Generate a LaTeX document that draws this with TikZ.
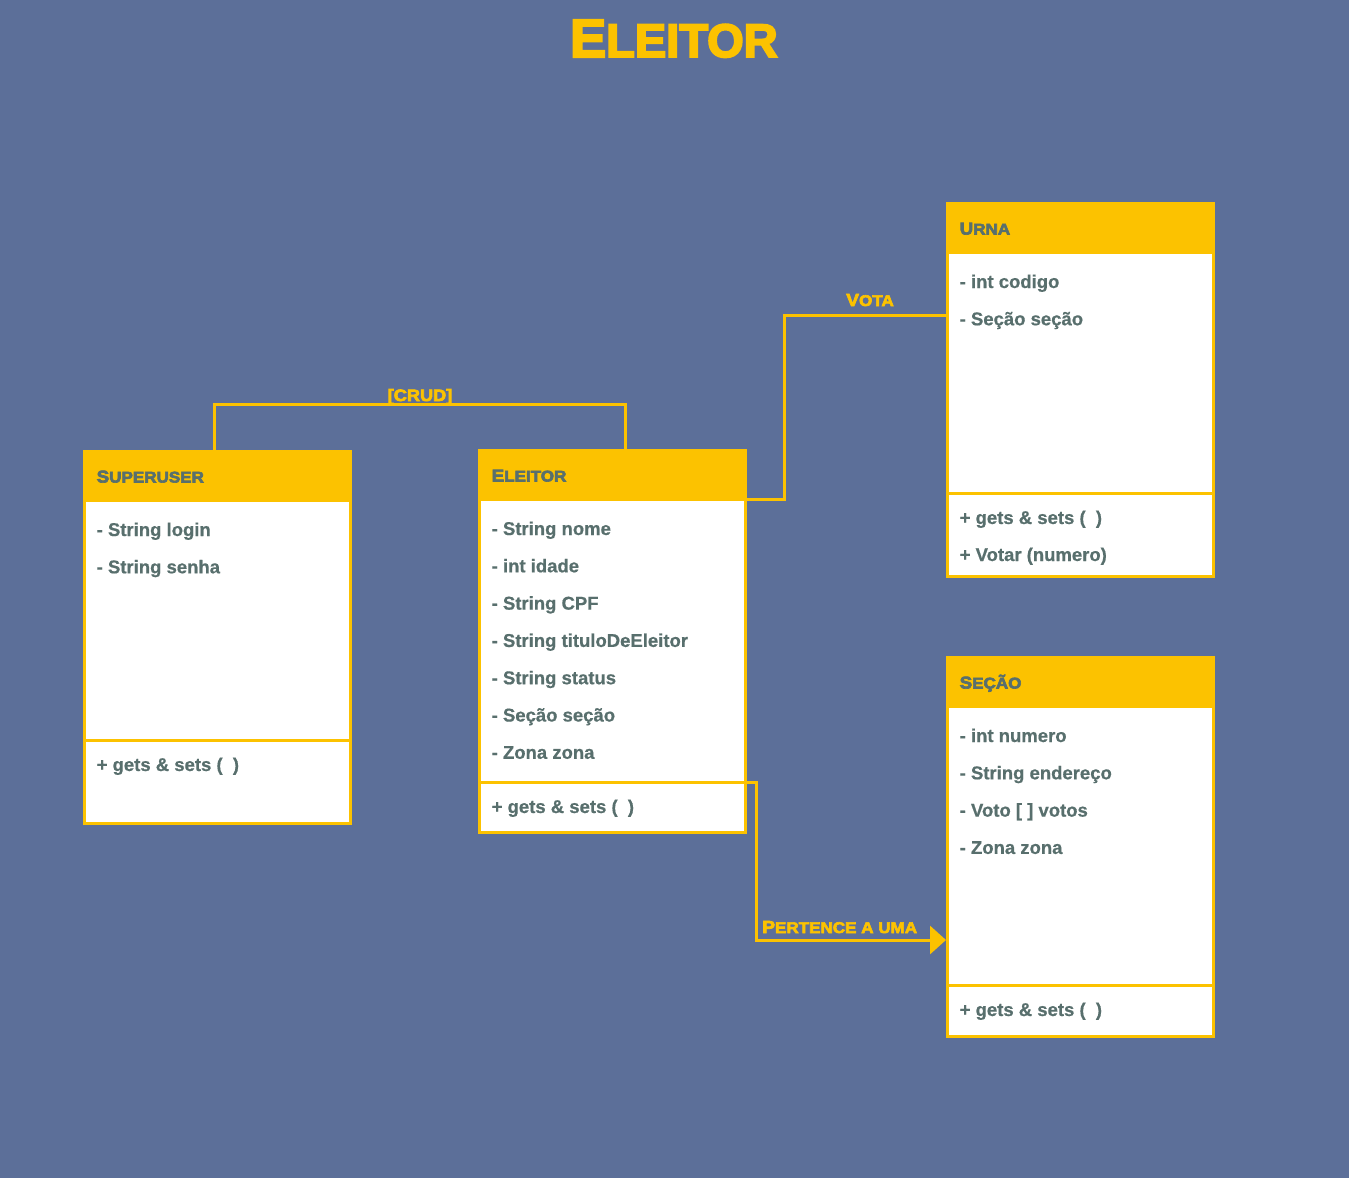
\documentclass[tikz,border=0pt]{standalone}
\usepackage{fontspec}
\setmainfont{Liberation Sans}
\newfontfamily\dispT[FakeBold=4]{Liberation Sans}
\newfontfamily\disp[FakeBold=4,FakeStretch=1.1]{Liberation Sans}
\newfontfamily\bodyf[FakeBold=0.6]{Liberation Sans}
\usetikzlibrary{arrows.meta}
\definecolor{bg}{RGB}{92,111,153}
\definecolor{gold}{RGB}{252,194,0}
\definecolor{txt}{RGB}{88,111,109}
\newcommand\smc[4]{{\fontsize{#1}{#1}\selectfont #3}{\fontsize{#2}{#2}\selectfont #4}}
\tikzset{
  bodybox/.style={rectangle, fill=white, draw=gold, line width=3pt, inner sep=0pt, outer sep=0pt},
  hdrbox/.style={rectangle, fill=gold, draw=none, inner sep=0pt, outer sep=0pt, minimum width=269pt, minimum height=50pt},
  sepline/.style={draw=gold, line width=3pt},
  hdrtext/.style={anchor=base west, inner sep=0pt, text=txt, font=\disp\bfseries},
  attr/.style={anchor=base west, inner sep=0pt, text=txt, font=\bodyf\bfseries\fontsize{18.5}{20}\selectfont},
  conn/.style={draw=gold, line width=3pt},
  lbl/.style={inner sep=0pt, text=gold, font=\disp\bfseries},
}
\newcommand\umlbox[8]{%
  \node[bodybox, minimum width=266pt, minimum height={#5-#3-51.5}, anchor=north west] (#1-body) at ({#2+1.5},{#3+50}) {};
  \node[hdrbox, anchor=north west] (#1) at (#2,#3) {};
  \draw[sepline] ({#2+1.5},#4) -- ({#2+267.5},#4);
  \coordinate (#1-sepE) at ({#2+267.5},#4);
  \node[hdrtext] (#1-title) at ({#2+13.5},{#3+32.5}) {#6};
  \foreach \t [count=\i] in {#7} {\node[attr] (#1-a\i) at ({#2+13.5},{#3+86+(\i-1)*37.3}) {\t};}
  \foreach \t [count=\i] in {#8} {\node[attr] (#1-m\i) at ({#2+13.5},{#4+31+(\i-1)*37}) {\t};}
}
\begin{document}
\begin{tikzpicture}[x=1pt,y=-1pt]
\fill[bg] (0,0) rectangle (1349,1178);
\useasboundingbox (0,0) rectangle (1349,1178);

\node[anchor=base west, inner sep=0pt, text=gold, font=\dispT\bfseries] (title) at (570,57) {\smc{54}{47}{E}{LEITOR}};

\umlbox{su}{83}{450}{740}{825}{\smc{17}{15.5}{S}{UPERUSER}}{- String login, - String senha}{+ gets \& sets ( \ )}
\umlbox{el}{478}{449}{782}{834}{\smc{17}{15.5}{E}{LEITOR}}{- String nome, - int idade, - String CPF, - String tituloDeEleitor, - String status, - Seção seção, - Zona zona}{+ gets \& sets ( \ )}
\umlbox{ur}{946}{202}{493}{578}{\smc{17}{15.5}{U}{RNA}}{- int codigo, - Seção seção}{+ gets \& sets ( \ ), + Votar (numero)}
\umlbox{se}{946}{656}{985}{1038}{\smc{17}{15.5}{S}{EÇÃO}}{- int numero, - String endereço, - Voto [ ] votos, - Zona zona}{+ gets \& sets ( \ )}

% [CRUD]
\draw[conn] ([xshift=131pt]su.north west) -- ++(0,-46) -| ([xshift=147pt]el.north west);
\node[lbl, anchor=base] (crud) at (420,401) {\smc{16.5}{16.5}{}{[CRUD]}};

% Vota
\draw[conn] (el.south east) -- ++(37,0) |- ([yshift=-63pt]ur.south west);
\node[lbl, anchor=base] (vota) at (870,306) {\smc{17.5}{15.5}{V}{OTA}};

% Pertence a uma
\draw[conn, -{Triangle[length=16pt,width=28pt]}] (el-sepE) -- ++(10.5,0) |- ([yshift=-234pt]se.south west);
\node[lbl, anchor=base west] (pert) at (762,933) {\smc{17.5}{15.5}{P}{ERTENCE A UMA}};
\end{tikzpicture}
\end{document}
